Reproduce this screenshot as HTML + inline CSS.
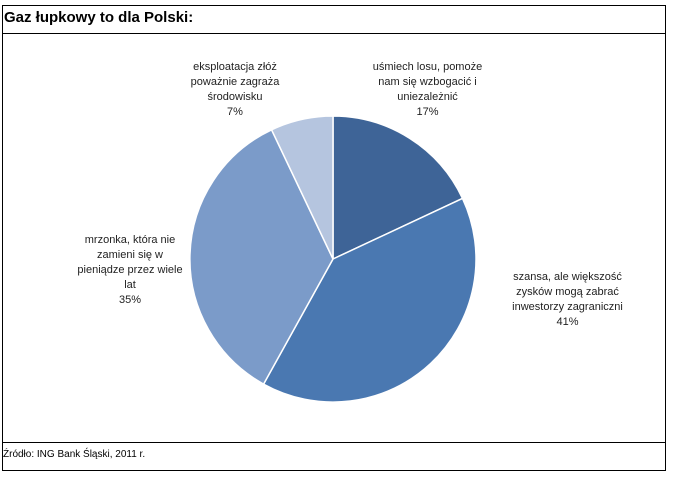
<!DOCTYPE html>
<html><head><meta charset="utf-8"><style>
body{margin:0;background:#fff;width:681px;height:479px;position:relative;font-family:"Liberation Sans",Arial,sans-serif;}
.box{position:absolute;left:2px;top:5px;width:662px;height:464px;border:1px solid #000;}
.t{position:absolute;left:4px;top:9px;font-size:15px;font-weight:bold;}
.l1{position:absolute;left:2px;top:33px;width:663px;height:1px;background:#000;}
.l2{position:absolute;left:2px;top:442px;width:663px;height:1px;background:#000;}
.src{position:absolute;left:3px;top:449px;font-size:10px;}
.lab{position:absolute;font-size:11px;line-height:15px;text-align:center;color:#222;}
</style></head><body>
<div class="box"></div>
<div class="t">Gaz łupkowy to dla Polski:</div>
<div class="l1"></div><div class="l2"></div>
<div class="src">Źródło: ING Bank Śląski, 2011 r.</div>
<svg width="681" height="479" style="position:absolute;left:0;top:0">
<g stroke="#fff" stroke-width="1.5">
<path d="M333,259 L333,116 A143,143 0 0 1 462.5,198.4 Z" fill="#3E6497"/>
<path d="M333,259 L462.5,198.4 A143,143 0 0 1 263.6,384.1 Z" fill="#4A78B1"/>
<path d="M333,259 L263.6,384.1 A143,143 0 0 1 271.6,129.8 Z" fill="#7B9BC9"/>
<path d="M333,259 L271.6,129.8 A143,143 0 0 1 333,116 Z" fill="#B5C5DF"/>
</g></svg>
<div class="lab" style="left:150px;top:60px;width:170px">eksploatacja złóż<br>poważnie zagraża<br>środowisku<br>7%</div>
<div class="lab" style="left:340px;top:60px;width:175px">uśmiech losu, pomoże<br>nam się wzbogacić i<br>uniezależnić<br>17%</div>
<div class="lab" style="left:55px;top:233px;width:150px">mrzonka, która nie<br>zamieni się w<br>pieniądze przez wiele<br>lat<br>35%</div>
<div class="lab" style="left:480px;top:270px;width:175px">szansa, ale większość<br>zysków mogą zabrać<br>inwestorzy zagraniczni<br>41%</div>
</body></html>
